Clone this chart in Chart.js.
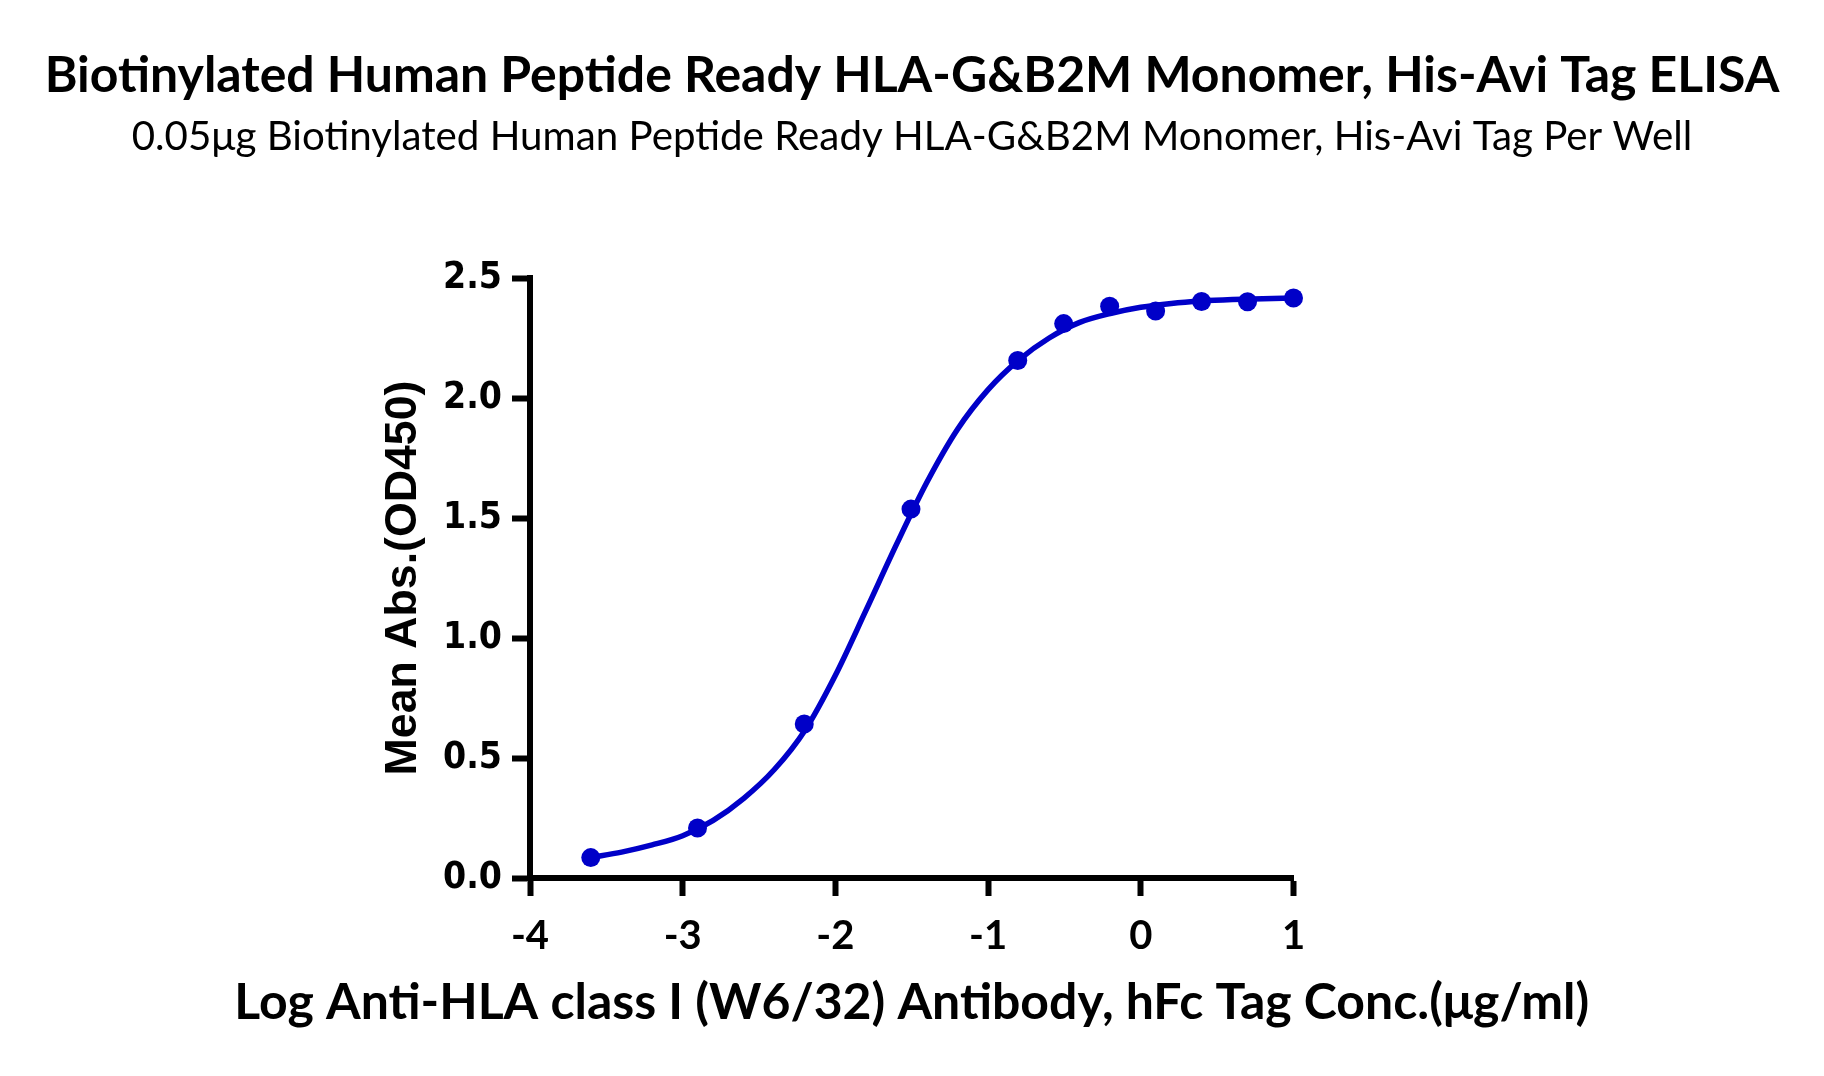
<!DOCTYPE html>
<html>
<head>
    <title>HLA-G&B2M ELISA</title>
    <script src="https://cdn.jsdelivr.net/npm/chart.js"></script>
    <style>
        html, body {
            margin: 0;
            padding: 0;
            background: #ffffff;
        }
        #elisaChart {
            display: block;
        }
    </style>
</head>
<body>
    <canvas id="elisaChart" width="1824" height="1076"></canvas>

    <script>
        // 数据
        const titleText = 'Biotinylated Human Peptide Ready HLA-G&B2M Monomer, His-Avi Tag ELISA';
        const subtitleText = '0.05μg Biotinylated Human Peptide Ready HLA-G&B2M Monomer, His-Avi Tag Per Well';
        const xTitle = 'Log Anti-HLA class I (W6/32) Antibody, hFc Tag Conc.(μg/ml)';
        const yTitle = 'Mean Abs.(OD450)';

        const logConc = [-3.602, -2.903, -2.204, -1.505, -0.806, -0.505, -0.204, 0.097, 0.398, 0.699, 1.0];
        const meanAbs = [0.085, 0.208, 0.642, 1.537, 2.156, 2.310, 2.382, 2.362, 2.402, 2.401, 2.417];

        // 拟合曲线（沿曲线读取）
        const curveX = [-3.6, -3.4, -3.2, -3.0, -2.8, -2.6, -2.4, -2.2, -2.0, -1.8, -1.6, -1.4,
                        -1.2, -1.0, -0.8, -0.6, -0.4, -0.2, 0.0, 0.2, 0.4, 0.6, 0.8, 1.0];
        const curveY = [0.086, 0.108, 0.138, 0.176, 0.240, 0.332, 0.452, 0.615, 0.845, 1.115, 1.390, 1.650,
                        1.870, 2.035, 2.158, 2.250, 2.315, 2.352, 2.378, 2.394, 2.404, 2.410, 2.414, 2.417];

        const xTicks = [-4, -3, -2, -1, 0, 1];
        const yTicks = [0.0, 0.5, 1.0, 1.5, 2.0, 2.5];

        const blue = 'rgb(0, 0, 200)';

        // 按目标宽度计算字号
        function fitSize(text, weight, family, width) {
            const c = document.createElement('canvas').getContext('2d');
            c.font = weight + ' 100px ' + family;
            return 100 * width / c.measureText(text).width;
        }

        const titleFont = "Lato, 'Noto Sans', sans-serif";
        const titleSize = fitSize(titleText, 'bold', titleFont, 1735);
        const subSize = fitSize(subtitleText, 'normal', titleFont, 1561);
        const xTitleSize = fitSize(xTitle, 'bold', titleFont, 1355);
        const yTitleFont = "'Liberation Sans', Arial, sans-serif";
        const yTitleSize = fitSize(yTitle, 'bold', yTitleFont, 395);

        const plotTop = 278;
        const titleTop = 76 - 0.6 * titleSize;
        const titleBottom = 76 + 0.6 * titleSize;
        const subTop = 137 - 0.6 * subSize - titleBottom;
        const subBottom = plotTop - (137 + 0.6 * subSize);

        // x 轴标题比坐标轴宽，单独绘制
        const xTitlePlugin = {
            id: 'xTitlePlugin',
            afterDraw(chart) {
                const c = chart.ctx;
                const area = chart.chartArea;
                c.save();
                c.fillStyle = '#000';
                c.font = 'bold ' + xTitleSize + 'px ' + titleFont;
                c.textAlign = 'center';
                c.textBaseline = 'middle';
                c.fillText(xTitle, (area.left + area.right) / 2, 1003);
                c.restore();
            }
        };

        const ctx = document.getElementById('elisaChart').getContext('2d');

        window.myChart = new Chart(ctx, {
            type: 'scatter',
            data: {
                datasets: [{
                    label: 'Mean Abs.',
                    data: logConc.map((x, i) => ({ x: x, y: meanAbs[i] })),
                    showLine: false,
                    pointRadius: 9.5,
                    pointHoverRadius: 9.5,
                    pointBackgroundColor: blue,
                    pointBorderColor: blue,
                    pointBorderWidth: 0,
                    clip: false,
                    order: 0
                }, {
                    label: 'Fit',
                    data: curveX.map((x, i) => ({ x: x, y: curveY[i] })),
                    showLine: true,
                    borderColor: blue,
                    borderWidth: 5.5,
                    pointRadius: 0,
                    cubicInterpolationMode: 'monotone',
                    clip: false,
                    order: 1
                }]
            },
            plugins: [xTitlePlugin],
            options: {
                responsive: false,
                animation: false,
                devicePixelRatio: 1,
                layout: {
                    padding: 0
                },
                plugins: {
                    legend: { display: false },
                    tooltip: { enabled: false },
                    title: {
                        display: true,
                        text: titleText,
                        color: '#000',
                        font: { family: titleFont, size: titleSize, weight: 'bold', lineHeight: 1.2 },
                        padding: { top: titleTop, bottom: 0 }
                    },
                    subtitle: {
                        display: true,
                        text: subtitleText,
                        color: '#000',
                        font: { family: titleFont, size: subSize, weight: 'normal', lineHeight: 1.2 },
                        padding: { top: subTop, bottom: subBottom }
                    }
                },
                scales: {
                    x: {
                        type: 'linear',
                        min: -4,
                        max: 1,
                        afterFit: (scale) => { scale.height = 1076 - 878; },
                        afterBuildTicks: (scale) => { scale.ticks = xTicks.map(v => ({ value: v })); },
                        border: { display: true, color: '#000', width: 6 },
                        grid: { drawOnChartArea: false, drawTicks: true, tickLength: 18, tickWidth: 6, tickColor: '#000' },
                        ticks: {
                            color: '#000',
                            padding: 16,
                            font: { family: titleFont, size: 40, weight: 'bold', lineHeight: 1.2 },
                            callback: (v) => String(v)
                        },
                        title: { display: false }
                    },
                    y: {
                        type: 'linear',
                        min: 0,
                        max: 2.5,
                        afterFit: (scale) => { scale.width = 530; },
                        afterBuildTicks: (scale) => { scale.ticks = yTicks.map(v => ({ value: v })); },
                        border: { display: true, color: '#000', width: 6 },
                        grid: { drawOnChartArea: false, drawTicks: true, tickLength: 18, tickWidth: 6, tickColor: '#000' },
                        ticks: {
                            color: '#000',
                            padding: 10,
                            font: { family: "'DejaVu Sans Condensed', 'DejaVu Sans', sans-serif", size: 37, weight: 'bold' },
                            callback: (v) => Number(v).toFixed(1)
                        },
                        title: {
                            display: true,
                            text: yTitle,
                            color: '#000',
                            font: { family: yTitleFont, size: yTitleSize, weight: 'bold', lineHeight: 1.2 },
                            padding: { top: 404 - 0.6 * yTitleSize, bottom: 0 }
                        }
                    },
                    // 右侧留白
                    rightSpace: {
                        type: 'linear',
                        position: 'right',
                        display: true,
                        afterFit: (scale) => { scale.width = 1824 - 1293.5; },
                        border: { display: false },
                        grid: { display: false },
                        ticks: { display: false }
                    }
                }
            }
        });
    </script>
</body>
</html>
